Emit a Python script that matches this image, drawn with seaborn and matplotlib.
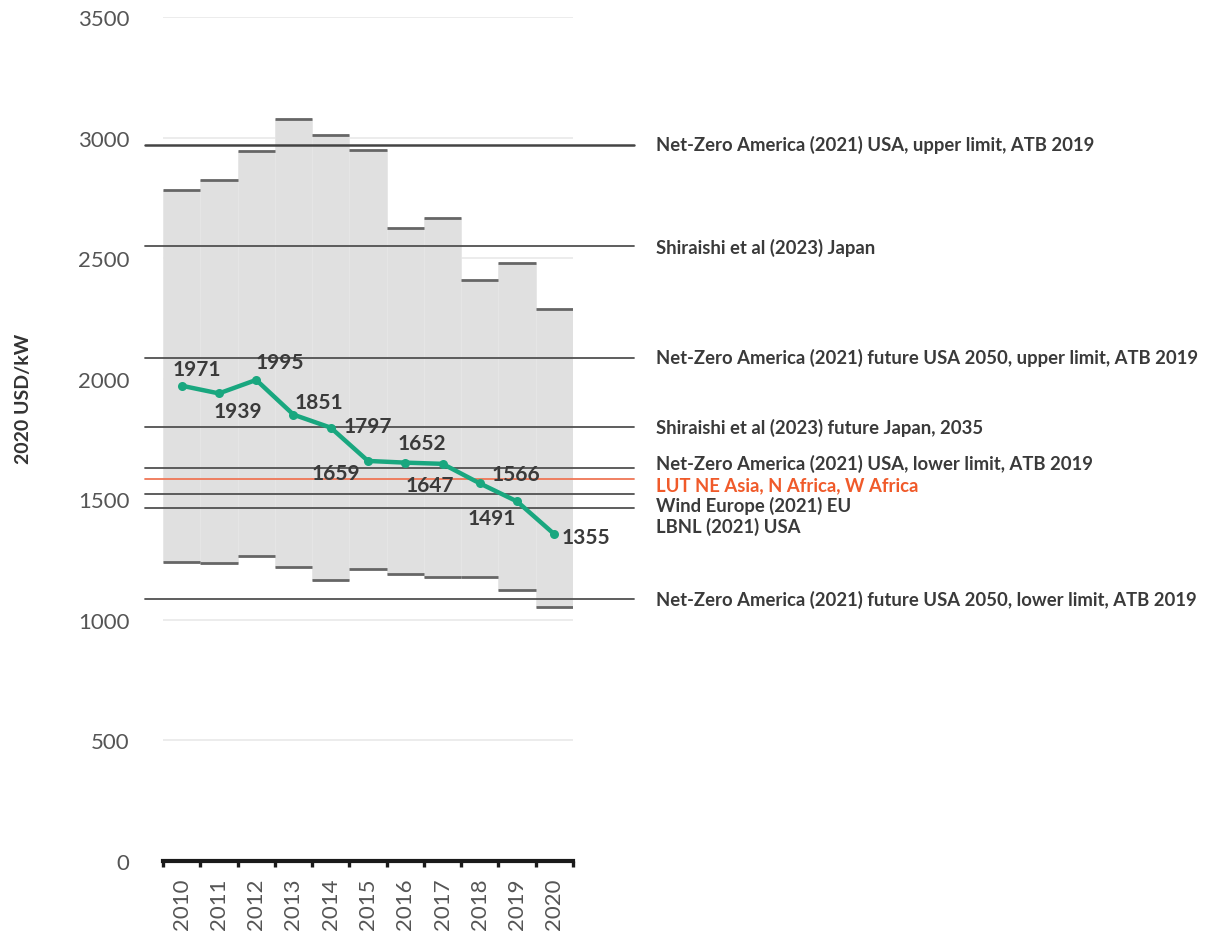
import matplotlib
matplotlib.use("Agg")
import matplotlib.pyplot as plt
import seaborn as sns
import numpy as np
import pandas as pd
from matplotlib.transforms import blended_transform_factory

# ---------------- data ----------------
years = [str(y) for y in range(2010, 2021)]
range_top = [2783, 2823, 2943, 3076, 3012, 2950, 2624, 2668, 2411, 2480, 2290]
range_bottom = [1242, 1235, 1266, 1220, 1167, 1209, 1191, 1176, 1176, 1122, 1053]
avg_cost = [1971, 1939, 1995, 1851, 1797, 1659, 1652, 1647, 1566, 1491, 1355]

ref_names = [
    "Net-Zero America (2021) USA, upper limit, ATB 2019",
    "Shiraishi et al (2023) Japan",
    "Net-Zero America (2021) future USA 2050, upper limit, ATB 2019",
    "Shiraishi et al (2023) future Japan, 2035",
    "Net-Zero America (2021) USA, lower limit, ATB 2019",
    "LUT NE Asia, N Africa, W Africa",
    "Wind Europe (2021) EU",
    "LBNL (2021) USA",
    "Net-Zero America (2021) future USA 2050, lower limit, ATB 2019",
]
ref_values = [2968, 2552, 2084, 1798, 1631, 1585, 1520, 1462, 1087]

# ---------------- layout / style (positions, not data) ----------------
ref_label_y = [2975, 2548, 2091, 1801, 1651, 1560, 1477, 1390, 1087]
ref_highlight = [False, False, False, False, False, True, False, False, False]
label_offsets = [(11, 12), (14, -13), (17, 13), (18, 9), (27, 1), (-23, -9),
                 (12, 14), (-9, -15), (26, 7), (-18, -12), (23, -2)]

GREEN = "#19a77f"
ORANGE_TXT = "#f05a2a"
ORANGE_LINE = "#ef7656"
REF_GRAY = "#505050"
TEXT_DARK = "#3a3a3a"

sns.set_theme(style="white")
plt.rcParams["font.family"] = ["Lato", "DejaVu Sans"]

fig = plt.figure(figsize=(12.21, 9.37), dpi=100)
ax = fig.add_axes([163 / 1221, 75 / 937, 410 / 1221, 844 / 937])

heights = [t - b for t, b in zip(range_top, range_bottom)]
df = pd.DataFrame({"year": years, "height": heights, "bottom": range_bottom,
                   "top": range_top, "cost": avg_cost})
xpos = np.arange(len(years))

sns.barplot(data=df, x="year", y="height", bottom=df["bottom"].values, width=1.0,
            color="#e0e0e0", saturation=1, edgecolor="#e6e6e6", linewidth=0.6,
            ax=ax, zorder=1)

# top / bottom caps of the ranges
ax.hlines(df["top"], xpos - 0.5, xpos + 0.5, color="#666666", lw=2.0, zorder=2)
ax.hlines(df["bottom"], xpos - 0.5, xpos + 0.5, color="#666666", lw=2.0, zorder=2)

# reference lines and labels
tr = blended_transform_factory(ax.transAxes, ax.transData)
for name, val, ly, hi in zip(ref_names, ref_values, ref_label_y, ref_highlight):
    lc = ORANGE_LINE if hi else REF_GRAY
    lw = 1.3
    if val == ref_values[0]:
        lw = 1.8
        lc = "#444444"
    ax.plot([-0.044, 1.149], [val, val], transform=tr, color=lc, lw=lw,
            clip_on=False, zorder=3)
    ax.text(1.202, ly, name, transform=tr, ha="left", va="center",
            fontsize=13.3, fontweight="bold", color=ORANGE_TXT if hi else TEXT_DARK)

# average line
sns.lineplot(x=xpos, y=df["cost"], color=GREEN, lw=3.2, marker="o", markersize=6.5,
             markeredgewidth=0, ax=ax, zorder=4)
for x, v, (dx, dy) in zip(xpos, avg_cost, label_offsets):
    ax.annotate(f"{v}", (x, v), xytext=(dx, dy), textcoords="offset points",
                ha="center", va="center", fontsize=15, fontweight="bold",
                color=TEXT_DARK, zorder=5)

# axes styling
ax.set_xlim(-0.5, len(years) - 0.5)
ax.set_ylim(0, 3500)
ax.set_yticks(np.arange(0, 3501, 500))
ax.yaxis.grid(True, color="#ebebeb", lw=1.3)
ax.xaxis.grid(False)
ax.set_axisbelow(True)
for s in ["top", "right", "left"]:
    ax.spines[s].set_visible(False)
ax.spines["bottom"].set_linewidth(3.0)
ax.spines["bottom"].set_color("#1a1a1a")
ax.spines["bottom"].set_zorder(6)

ax.set_xticks(xpos)
ax.set_xticklabels(years, rotation=90)
ax.set_xticks(np.arange(len(years) + 1) - 0.5, minor=True)
ax.tick_params(axis="x", which="major", length=0, pad=12, labelsize=16,
               labelcolor="#555555")
ax.tick_params(axis="x", which="minor", length=4.5, width=2.4, color="#1a1a1a",
               direction="out", bottom=True)
ax.tick_params(axis="y", length=0, pad=24, labelsize=16, labelcolor="#555555")

ax.set_xlabel("")
ax.set_ylabel("2020 USD/kW", fontsize=14, fontweight="bold", color="#333333")
ax.yaxis.set_label_coords(-131 / 410, (862 - 399) / 844)

fig.savefig("out.png", dpi=100)
